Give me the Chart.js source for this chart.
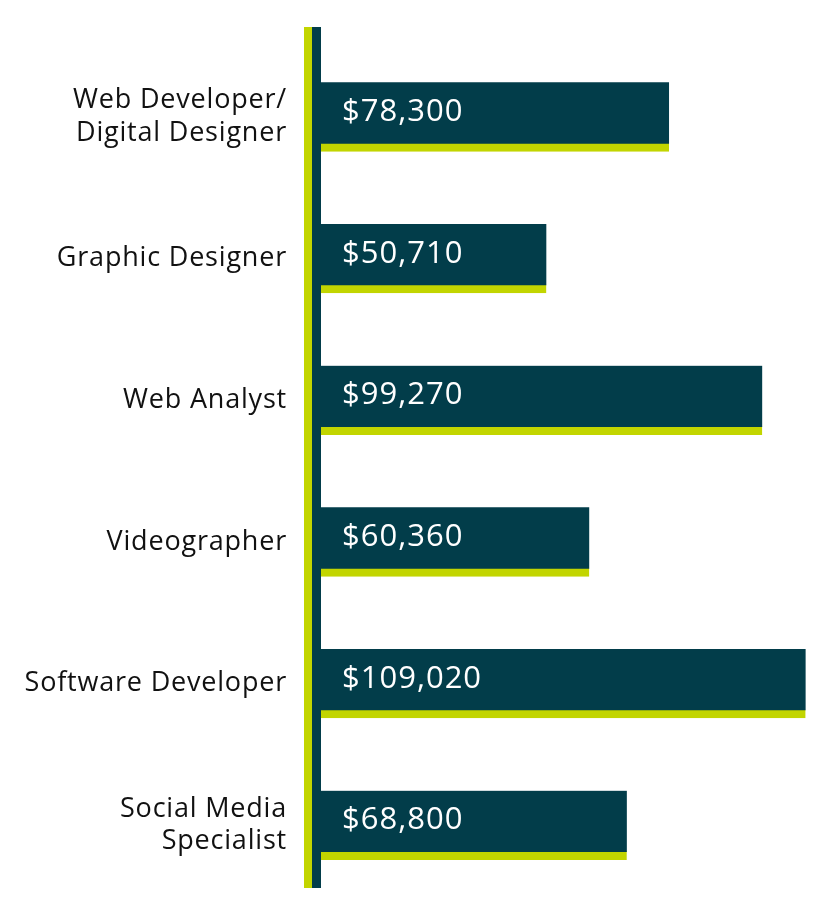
<!DOCTYPE html>
<html>
<head>
<meta charset="utf-8">
<script src="https://cdn.jsdelivr.net/npm/chart.js@4.4.0/dist/chart.umd.min.js"></script>
<style>
  html, body { margin: 0; padding: 0; background: #fff; }
  #wrap { width: 840px; height: 920px; }
</style>
</head>
<body>
<div id="wrap"><canvas id="salaries"></canvas></div>
<script>
// job titles and median salaries
const jobs = [
    ['Web Developer/', 'Digital Designer'],
    'Graphic Designer',
    'Web Analyst',
    'Videographer',
    'Software Developer',
    ['Social Media', 'Specialist']
];
const salaries = [78300, 50710, 99270, 60360, 109020, 68800];
const salaryLabels = ['$78,300', '$50,710', '$99,270', '$60,360', '$109,020', '$68,800'];

const DARK = '#023d4a';
const LIME = '#c2d500';

// slightly wider lettering, closer to the original typeface
const spacing = {
    id: 'spacing',
    beforeDraw(chart) {
        chart.ctx.letterSpacing = '0.8px';
    }
};

// double vertical line (lime + dark) along the left edge of the bars
const axisLine = {
    id: 'axisLine',
    beforeDatasetsDraw(chart) {
        const { ctx, chartArea } = chart;
        const top = chartArea.top - 19;
        const bottom = chartArea.bottom - 8;
        ctx.save();
        ctx.fillStyle = LIME;
        ctx.fillRect(chartArea.left - 17, top, 8, bottom - top);
        ctx.fillStyle = DARK;
        ctx.fillRect(chartArea.left - 9, top, 9, bottom - top);
        ctx.restore();
    }
};

// white salary text inside each bar
const valueLabels = {
    id: 'valueLabels',
    afterDatasetsDraw(chart) {
        const { ctx } = chart;
        const meta = chart.getDatasetMeta(0);
        ctx.save();
        ctx.fillStyle = '#ffffff';
        ctx.font = '31px "Open Sans"';
        ctx.letterSpacing = '1px';
        ctx.textAlign = 'left';
        ctx.textBaseline = 'alphabetic';
        meta.data.forEach((bar, i) => {
            ctx.fillText(salaryLabels[i], bar.base + 21, bar.y + 4);
        });
        ctx.restore();
    }
};

const ctx = document.querySelector('#salaries');
new Chart(ctx, {
    type: 'bar',
    data: {
        labels: jobs,
        datasets: [{
            data: salaries,
            backgroundColor: DARK,
            borderColor: LIME,
            borderWidth: { top: 0, right: 0, bottom: 8, left: 0 },
            borderSkipped: false,
            barThickness: 69
        }]
    },
    options: {
        indexAxis: 'y',
        responsive: true,
        maintainAspectRatio: false,
        animation: false,
        layout: {
            padding: { top: 46, bottom: 24, left: 0, right: 10 }
        },
        plugins: {
            legend: { display: false },
            tooltip: { enabled: false }
        },
        scales: {
            x: {
                display: false,
                min: 0,
                max: 114500
            },
            y: {
                afterFit(scale) {
                    // fixed width, and no extra room for the label overflow
                    scale.width = 321;
                    scale.paddingTop = 0;
                    scale.paddingBottom = 0;
                },
                grid: { display: false, drawTicks: false },
                border: { display: false },
                ticks: {
                    color: '#111111',
                    padding: 34,
                    font: { family: 'Open Sans', size: 27, lineHeight: 1.2 }
                }
            }
        }
    },
    plugins: [spacing, axisLine, valueLabels]
});
</script>
</body>
</html>
